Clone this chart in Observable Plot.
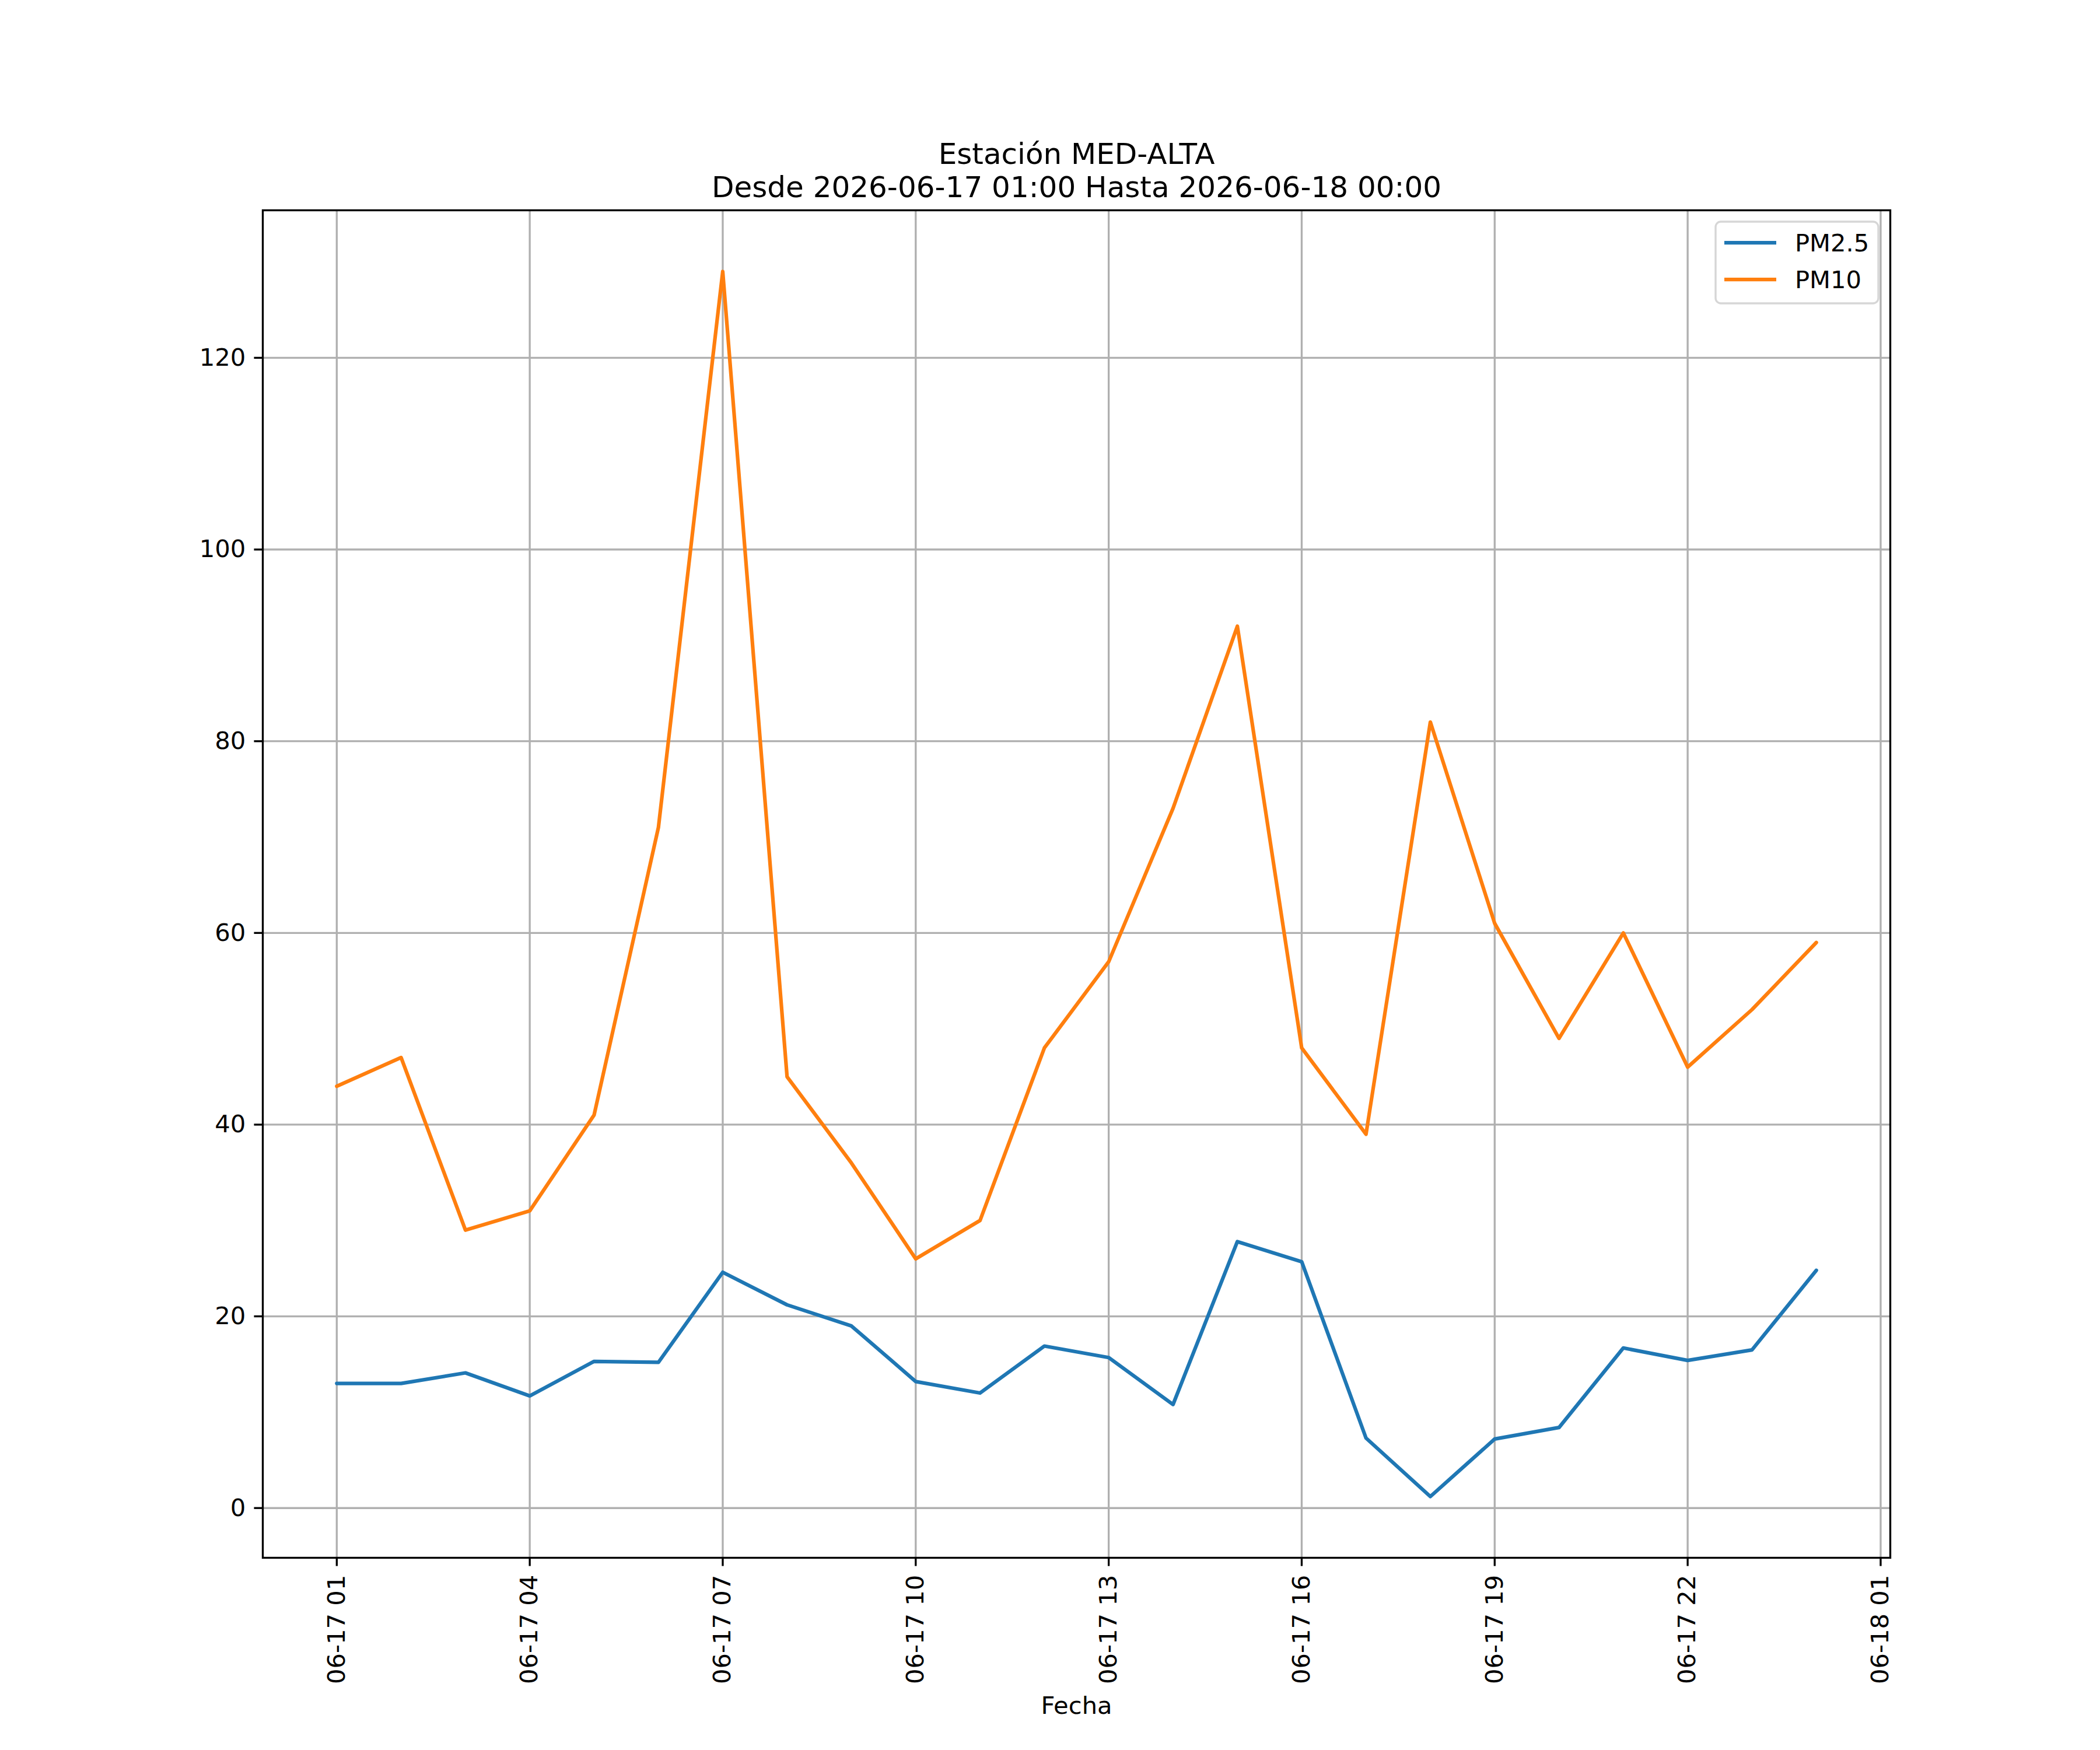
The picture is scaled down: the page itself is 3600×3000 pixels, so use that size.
<!DOCTYPE html>
<html>
<head>
<meta charset="utf-8">
<script src="https://cdn.jsdelivr.net/npm/d3@7"></script>
<script src="https://cdn.jsdelivr.net/npm/@observablehq/plot@0.6"></script>
<style>
html, body { margin: 0; padding: 0; background: #ffffff; }
svg { display: block; }
</style>
</head>
<body>
<div id="chart"></div>
<script>
// ---- data ----
const times = [
  "2026-06-17 01:00", "2026-06-17 02:00", "2026-06-17 03:00", "2026-06-17 04:00",
  "2026-06-17 05:00", "2026-06-17 06:00", "2026-06-17 07:00", "2026-06-17 08:00",
  "2026-06-17 09:00", "2026-06-17 10:00", "2026-06-17 11:00", "2026-06-17 12:00",
  "2026-06-17 13:00", "2026-06-17 14:00", "2026-06-17 15:00", "2026-06-17 16:00",
  "2026-06-17 17:00", "2026-06-17 18:00", "2026-06-17 19:00", "2026-06-17 20:00",
  "2026-06-17 21:00", "2026-06-17 22:00", "2026-06-17 23:00", "2026-06-18 00:00"
];
const pm25 = [13.0, 13.0, 14.1, 11.7, 15.3, 15.2, 24.6, 21.2, 19.0, 13.2, 12.0, 16.9,
              15.7, 10.8, 27.8, 25.7, 7.3, 1.2, 7.2, 8.4, 16.7, 15.4, 16.5, 24.8];
const pm10 = [44, 47, 29, 31, 41, 71, 129, 45, 36, 26, 30, 48,
              57, 73, 92, 48, 39, 82, 61, 49, 60, 46, 52, 59];
const seriesNames = ["PM2.5", "PM10"];
const seriesColors = ["#1f77b4", "#ff7f0e"];
const xTickTimes = [
  "2026-06-17 01:00", "2026-06-17 04:00", "2026-06-17 07:00", "2026-06-17 10:00",
  "2026-06-17 13:00", "2026-06-17 16:00", "2026-06-17 19:00", "2026-06-17 22:00",
  "2026-06-18 01:00"
];
const yTicks = [0, 20, 40, 60, 80, 100, 120];
const titleLines = ["Estación MED-ALTA", "Desde 2026-06-17 01:00 Hasta 2026-06-18 00:00"];
const xLabel = "Fecha";

// ---- build ----
const PT = 300 / 72;
const parse = d3.utcParse("%Y-%m-%d %H:%M");
const dates = times.map(parse);
const xTicks = xTickTimes.map(parse);
const seriesValues = [pm25, pm10];
const rows = [];
seriesNames.forEach((name, i) => {
  dates.forEach((d, j) => rows.push({ date: d, value: seriesValues[i][j], series: name }));
});

const [x0, x1] = d3.extent(dates, d => +d);
const xPad = (x1 - x0) * 0.05;
const xDomain = [new Date(x0 - xPad), new Date(x1 + xPad)];
const [y0, y1] = d3.extent(rows, d => d.value);
const yPad = (y1 - y0) * 0.05;
const yDomain = [y0 - yPad, y1 + yPad];

const plot = Plot.plot({
  width: 3600,
  height: 3000,
  marginLeft: 450,
  marginRight: 360,
  marginTop: 360,
  marginBottom: 330,
  style: { fontFamily: "DejaVu Sans", background: "#ffffff", color: "#000000", overflow: "visible" },
  x: { type: "utc", domain: xDomain },
  y: { domain: yDomain },
  color: { domain: seriesNames, range: seriesColors },
  marks: [
    Plot.gridX(xTicks, { stroke: "#b0b0b0", strokeOpacity: 1, strokeWidth: 0.8 * PT }),
    Plot.gridY(yTicks, { stroke: "#b0b0b0", strokeOpacity: 1, strokeWidth: 0.8 * PT }),
    Plot.line(rows, { x: "date", y: "value", z: "series", stroke: "series", strokeWidth: 1.5 * PT }),
    Plot.frame({ stroke: "#000000", strokeWidth: 0.8 * PT }),
    Plot.axisX(xTicks, {
      tickSize: 3.5 * PT, tickPadding: 3.5 * PT, tickRotate: -90,
      tickFormat: d3.utcFormat("%m-%d %H"), fontSize: 10 * PT,
      strokeWidth: 0.8 * PT, label: null
    }),
    Plot.axisY(yTicks, {
      tickSize: 3.5 * PT, tickPadding: 3.5 * PT, fontSize: 10 * PT,
      strokeWidth: 0.8 * PT, label: null
    }),
    Plot.text([titleLines.join("\n")], {
      frameAnchor: "top", lineAnchor: "bottom", textAnchor: "middle",
      dy: -23, fontSize: 12 * PT, lineHeight: 1.14
    }),
    Plot.text([xLabel], {
      frameAnchor: "bottom", lineAnchor: "bottom", textAnchor: "middle",
      dy: 267, fontSize: 10 * PT
    })
  ]
});

// ---- legend (matplotlib-style, upper right inside axes) ----
const svg = d3.select(plot);
const lg = svg.append("g").attr("font-family", "DejaVu Sans").attr("text-anchor", "start");
lg.append("rect")
  .attr("x", 2941).attr("y", 380).attr("width", 279).attr("height", 140)
  .attr("rx", 9).attr("ry", 9)
  .attr("fill", "#ffffff").attr("fill-opacity", 0.8)
  .attr("stroke", "#d6d6d6").attr("stroke-width", 0.8 * PT);
seriesNames.forEach((name, i) => {
  const yy = 416 + i * 63;
  lg.append("line")
    .attr("x1", 2956).attr("x2", 3045).attr("y1", yy).attr("y2", yy)
    .attr("stroke", seriesColors[i]).attr("stroke-width", 1.5 * PT)
    .attr("stroke-linecap", "butt");
  lg.append("text")
    .attr("x", 3077).attr("y", yy).attr("dy", "0.35em")
    .attr("text-anchor", "start")
    .attr("font-size", 10 * PT).attr("fill", "#000000")
    .text(name);
});

document.getElementById("chart").appendChild(plot);
</script>
</body>
</html>
